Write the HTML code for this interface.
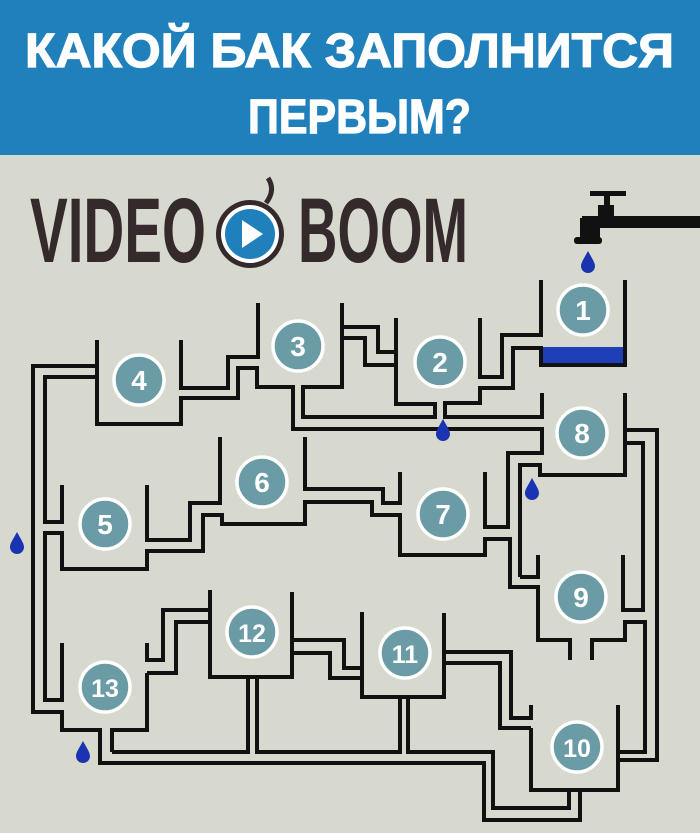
<!DOCTYPE html>
<html><head><meta charset="utf-8"><style>
html,body{margin:0;padding:0;background:#d7d9cf;}
svg{display:block}
</style></head><body>
<svg width="700" height="833" viewBox="0 0 700 833" xmlns="http://www.w3.org/2000/svg">
<rect x="0" y="0" width="700" height="833" fill="#d7d9cf"/>
<rect x="0" y="0" width="700" height="155" fill="#1f80bb"/>
<g font-family="'Liberation Sans','DejaVu Sans',sans-serif" font-weight="bold" fill="#fff" stroke="#fff" stroke-width="1.2" font-size="48">
<text x="25" y="67" textLength="649" lengthAdjust="spacingAndGlyphs">КАКОЙ БАК ЗАПОЛНИТСЯ</text>
<text x="248" y="133" textLength="223" lengthAdjust="spacingAndGlyphs">ПЕРВЫМ?</text>
</g>
<!-- logo -->
<g font-family="'Liberation Sans',sans-serif" font-weight="bold" fill="#352a2b" font-size="92">
<text x="30" y="262" textLength="176" lengthAdjust="spacingAndGlyphs">VIDEO</text>
<text x="298" y="262" textLength="170" lengthAdjust="spacingAndGlyphs">BOOM</text>
</g>
<path d="M266,203 Q276,190 268,178" stroke="#352a2b" stroke-width="5" fill="none"/>
<circle cx="250" cy="234" r="34" fill="#352a2b"/>
<circle cx="250" cy="234" r="29" fill="#fff"/>
<circle cx="250" cy="234" r="25" fill="#1f80bb"/>
<path d="M242,220 L263,234 L242,248 Z" fill="#fff"/>
<!-- faucet -->
<g fill="#111">
<rect x="590" y="191" width="36" height="5"/>
<rect x="604" y="193" width="6" height="14"/>
<path d="M598,205 h16 v12 h-16z"/>
<rect x="582" y="216" width="118" height="12"/>
<path d="M580,218 h20 v20 h-20z"/>
<rect x="574" y="237" width="28" height="7" rx="3"/>
</g>
<rect x="543" y="347" width="80" height="16" fill="#1f3fb8"/>
<g stroke="#111" stroke-width="4" fill="none" stroke-linejoin="miter">
<path d="M541,280 V335 H502 V377 H480 V318"/>
<path d="M625,280 V365 H541 V348 H513 V388 H480 V403 H445 V417 H542 V393"/>
<path d="M396,318 V404 H435 V417 H303 V387 H342 V303"/>
<path d="M258,303 V357 H228 V388 H181 V340"/>
<path d="M97,340 V424 H181 V398 H238 V368 H257 V387 H293 V429 H542 V453 H508 V527 H485 V472"/>
<path d="M342,327 H378 V352 H396"/>
<path d="M342,338 H365 V365 H396"/>
<path d="M97,366 H33 V712 H62 V730 H100 V763 H484 V820 H580 V790"/>
<path d="M97,377 H45 V522 H62 V485"/>
<path d="M62,569 V533 H45 V700 H62 V643"/>
<path d="M62,533 V569 H147 V551 H203 V515 H222 V524 H305 V502 H372 V515 H400 V555 H485 V539 H510 V587 H538 V640 H570 V660"/>
<path d="M147,485 V540 H190 V503 H220 V437"/>
<path d="M305,437 V489 H383 V503 H400 V472"/>
<path d="M520,577 V465 H540 V475 H625 V393"/>
<path d="M625,443 H643 V610 H623 V555"/>
<path d="M625,430 H657 V760 H618"/>
<path d="M520,577 H538 V555"/>
<path d="M592,660 V640 H625 V622 H645 V752 H618"/>
<path d="M531,728 V790 H618 V705"/>
<path d="M408,697 V752 H493 V808 H569 V790"/>
<path d="M362,612 V697 H444 V613"/>
<path d="M444,652 H511 V718 H531 V705"/>
<path d="M444,663 H500 V728 H531"/>
<path d="M210,590 V677 H292 V592"/>
<path d="M292,640 H344 V668 H362"/>
<path d="M292,675 V653 H330 V678 H362 V697"/>
<path d="M147,643 V660 H163 V610 H210"/>
<path d="M147,673 H176 V622 H210"/>
<path d="M112,752 V730 H147 V673"/>
<path d="M112,752 H248 V677"/>
<path d="M257,677 V752 H400 V697"/>
</g>
<g fill="#1a33b0">
<path d="M443,419 C438,428 436,431 436,434 A7,7 0 0 0 450,434 C450,431 448,428 443,419Z"/>
<path d="M532,478 C527,487 525,490 525,493 A7,7 0 0 0 539,493 C539,490 537,487 532,478Z"/>
<path d="M17,532 C12,541 10,544 10,547 A7,7 0 0 0 24,547 C24,544 22,541 17,532Z"/>
<path d="M83,741 C78,750 76,753 76,756 A7,7 0 0 0 90,756 C90,753 88,750 83,741Z"/>
<path d="M588,251 C583,260 581,263 581,266 A7,7 0 0 0 595,266 C595,263 593,260 588,251Z"/>
</g>
<g stroke="#fff" stroke-width="3.5" fill="#6b9ca5">
<circle cx="583" cy="310" r="25"/>
<circle cx="440" cy="362" r="25"/>
<circle cx="298" cy="346" r="25"/>
<circle cx="139" cy="380" r="25"/>
<circle cx="105" cy="524" r="25"/>
<circle cx="262" cy="482" r="25"/>
<circle cx="443" cy="514" r="25"/>
<circle cx="582" cy="433" r="25"/>
<circle cx="581" cy="597" r="25"/>
<circle cx="577" cy="747" r="25"/>
<circle cx="405" cy="653" r="25"/>
<circle cx="252" cy="632" r="25"/>
<circle cx="105" cy="687" r="25"/>
</g>
<g font-family="'Liberation Sans',sans-serif" font-weight="bold" fill="#fff" font-size="28" text-anchor="middle">
<text x="583" y="320">1</text>
<text x="440" y="372">2</text>
<text x="298" y="356">3</text>
<text x="139" y="390">4</text>
<text x="105" y="534">5</text>
<text x="262" y="492">6</text>
<text x="443" y="524">7</text>
<text x="582" y="443">8</text>
<text x="581" y="607">9</text>
<text x="577" y="757" font-size="25">10</text>
<text x="405" y="663" font-size="25">11</text>
<text x="252" y="642" font-size="25">12</text>
<text x="105" y="697" font-size="25">13</text>
</g>
</svg>
</body></html>
